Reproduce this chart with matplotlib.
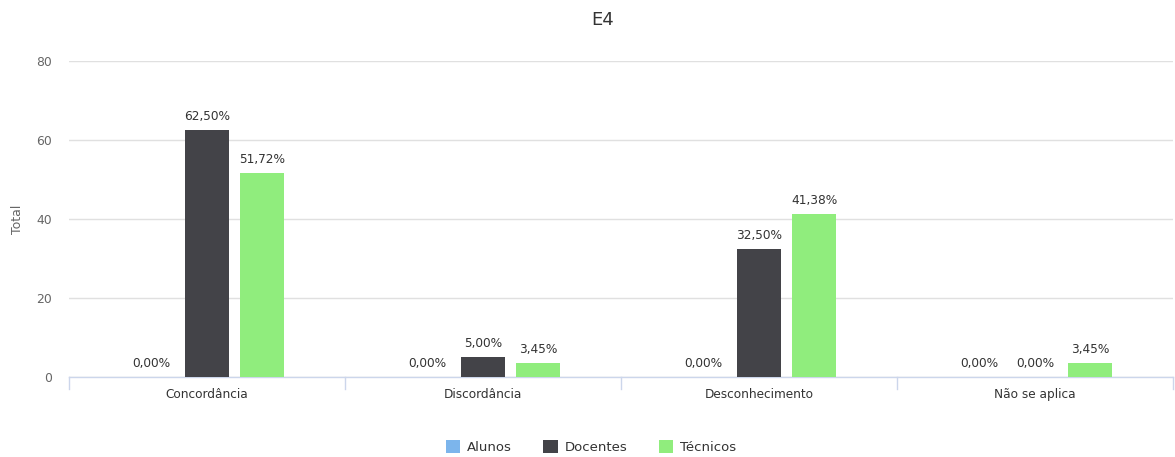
import matplotlib
matplotlib.use("Agg")
import matplotlib.pyplot as plt
import numpy as np
from matplotlib.patches import Patch

plt.rcParams['font.family'] = ['DejaVu Sans']

categories = ["Concordância", "Discordância", "Desconhecimento", "Não se aplica"]
series_names = ["Alunos", "Docentes", "Técnicos"]
alunos = [0.00, 0.00, 0.00, 0.00]
docentes = [62.50, 5.00, 32.50, 0.00]
tecnicos = [51.72, 3.45, 41.38, 3.45]
yticks = [0, 20, 40, 60, 80]

colors = ["#7cb5ec", "#434348", "#90ed7d"]
W, H = 1175, 457
fig = plt.figure(figsize=(W / 100, H / 100), dpi=100)
ax = fig.add_axes([69 / W, 1 - 377 / H, (1173 - 69) / W, (377 - 61) / H])

x = np.arange(len(categories))
offsets = [-0.2, 0.0, 0.2]
width = 0.16
for vals, off, col in zip([alunos, docentes, tecnicos], offsets, colors):
    ax.bar(x + off, vals, width=width, color=col, zorder=3)
    for xi, v in zip(x + off, vals):
        ax.annotate(f"{v:.2f}%".replace(".", ","), (xi, v), xytext=(0, 5),
                    textcoords="offset points", ha="center", va="bottom",
                    fontsize=8.7, color="#333333", zorder=4)

ax.set_xlim(-0.5, len(categories) - 0.5)
ax.set_ylim(0, 80)
ax.set_yticks(yticks)
ax.set_yticklabels([str(t) for t in yticks], fontsize=8.9, color="#666666")
ax.tick_params(axis="y", length=0, pad=12.5)
ax.grid(axis="y", color="#e0e0e0", linewidth=1, zorder=0)

ax.set_xticks(x)
ax.set_xticklabels(categories, fontsize=8.7, color="#333333")
ax.tick_params(axis="x", length=0, pad=8)
# category boundary ticks
for b in np.arange(-0.5, len(categories) + 0.5, 1.0):
    ax.plot([b, b], [0, -3.0], color="#ccd6eb", linewidth=1, clip_on=False, zorder=2)

for s in ["top", "right", "left"]:
    ax.spines[s].set_visible(False)
ax.spines["bottom"].set_color("#ccd6eb")
ax.spines["bottom"].set_linewidth(1)

ax.set_ylabel("Total", fontsize=9, color="#666666")
ax.yaxis.set_label_coords(-(69 - 24) / (1173 - 69), 0.5)

fig.text(603 / W, 1 - 20 / H, "E4", ha="center", va="center", fontsize=13, color="#333333")

handles = [Patch(facecolor=c, edgecolor="none") for c in colors]
fig.legend(handles, series_names, loc="center", bbox_to_anchor=(591 / W, 1 - 447 / H),
           ncol=3, frameon=False, fontsize=9.5, handlelength=1.1, handleheight=1.1,
           handletextpad=0.5, columnspacing=2.4, labelcolor="#333333")

fig.savefig("out.png", dpi=100, facecolor="white")
